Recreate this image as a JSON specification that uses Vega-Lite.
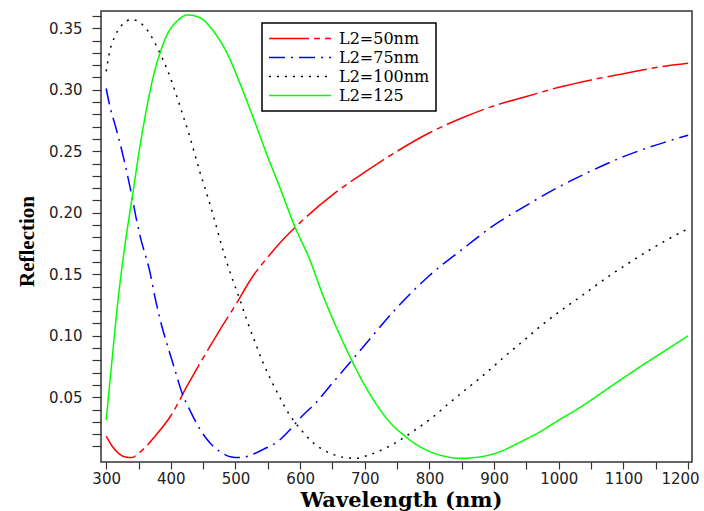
{
  "$schema": "https://vega.github.io/schema/vega-lite/v6.json",
  "width": 591,
  "height": 451,
  "autosize": {"type": "none"},
  "padding": {"left": 101, "top": 11, "right": 12, "bottom": 49},
  "background": "white",
  "config": {
    "view": {"stroke": "#333333", "strokeWidth": 1.5},
    "axis": {"grid": false, "domain": false, "tickColor": "#333333", "tickWidth": 1.2, "labelOverlap": false,
             "labelFont": "DejaVu Sans", "labelFontSize": 15, "labelColor": "#222222"}
  },
  "data": {"values": [
    {"s": "L2=50nm", "w": 300, "r": 0.0185}, {"s": "L2=50nm", "w": 310, "r": 0.0098}, {"s": "L2=50nm", "w": 320, "r": 0.004},
    {"s": "L2=50nm", "w": 330, "r": 0.0015}, {"s": "L2=50nm", "w": 340, "r": 0.001}, {"s": "L2=50nm", "w": 350, "r": 0.0045},
    {"s": "L2=50nm", "w": 360, "r": 0.009}, {"s": "L2=50nm", "w": 375, "r": 0.018}, {"s": "L2=50nm", "w": 400, "r": 0.035},
    {"s": "L2=50nm", "w": 425, "r": 0.059}, {"s": "L2=50nm", "w": 450, "r": 0.082}, {"s": "L2=50nm", "w": 475, "r": 0.104},
    {"s": "L2=50nm", "w": 500, "r": 0.125}, {"s": "L2=50nm", "w": 525, "r": 0.147}, {"s": "L2=50nm", "w": 550, "r": 0.164},
    {"s": "L2=50nm", "w": 575, "r": 0.179}, {"s": "L2=50nm", "w": 600, "r": 0.192}, {"s": "L2=50nm", "w": 650, "r": 0.2145},
    {"s": "L2=50nm", "w": 700, "r": 0.233}, {"s": "L2=50nm", "w": 750, "r": 0.25}, {"s": "L2=50nm", "w": 800, "r": 0.265},
    {"s": "L2=50nm", "w": 850, "r": 0.277}, {"s": "L2=50nm", "w": 900, "r": 0.287}, {"s": "L2=50nm", "w": 950, "r": 0.2945},
    {"s": "L2=50nm", "w": 1000, "r": 0.302}, {"s": "L2=50nm", "w": 1050, "r": 0.308}, {"s": "L2=50nm", "w": 1100, "r": 0.313},
    {"s": "L2=50nm", "w": 1150, "r": 0.318}, {"s": "L2=50nm", "w": 1200, "r": 0.3215},

    {"s": "L2=75nm", "w": 300, "r": 0.301}, {"s": "L2=75nm", "w": 306, "r": 0.286}, {"s": "L2=75nm", "w": 314, "r": 0.271},
    {"s": "L2=75nm", "w": 324, "r": 0.251}, {"s": "L2=75nm", "w": 334, "r": 0.228}, {"s": "L2=75nm", "w": 340, "r": 0.213},
    {"s": "L2=75nm", "w": 347, "r": 0.194}, {"s": "L2=75nm", "w": 353, "r": 0.18}, {"s": "L2=75nm", "w": 368, "r": 0.151},
    {"s": "L2=75nm", "w": 376, "r": 0.13}, {"s": "L2=75nm", "w": 386, "r": 0.108}, {"s": "L2=75nm", "w": 396, "r": 0.09},
    {"s": "L2=75nm", "w": 407, "r": 0.071}, {"s": "L2=75nm", "w": 417, "r": 0.054}, {"s": "L2=75nm", "w": 430, "r": 0.039},
    {"s": "L2=75nm", "w": 445, "r": 0.024}, {"s": "L2=75nm", "w": 461, "r": 0.0126}, {"s": "L2=75nm", "w": 476, "r": 0.0058},
    {"s": "L2=75nm", "w": 492, "r": 0.0017}, {"s": "L2=75nm", "w": 505, "r": 0.001}, {"s": "L2=75nm", "w": 512, "r": 0.0012},
    {"s": "L2=75nm", "w": 528, "r": 0.0039}, {"s": "L2=75nm", "w": 543, "r": 0.0077}, {"s": "L2=75nm", "w": 564, "r": 0.0135},
    {"s": "L2=75nm", "w": 585, "r": 0.024}, {"s": "L2=75nm", "w": 598, "r": 0.032}, {"s": "L2=75nm", "w": 625, "r": 0.046},
    {"s": "L2=75nm", "w": 650, "r": 0.0616}, {"s": "L2=75nm", "w": 675, "r": 0.077}, {"s": "L2=75nm", "w": 700, "r": 0.0925},
    {"s": "L2=75nm", "w": 750, "r": 0.123}, {"s": "L2=75nm", "w": 800, "r": 0.149}, {"s": "L2=75nm", "w": 850, "r": 0.17},
    {"s": "L2=75nm", "w": 900, "r": 0.19}, {"s": "L2=75nm", "w": 950, "r": 0.206}, {"s": "L2=75nm", "w": 1000, "r": 0.221},
    {"s": "L2=75nm", "w": 1050, "r": 0.234}, {"s": "L2=75nm", "w": 1100, "r": 0.2456}, {"s": "L2=75nm", "w": 1150, "r": 0.255},
    {"s": "L2=75nm", "w": 1200, "r": 0.263},

    {"s": "L2=100nm", "w": 300, "r": 0.315}, {"s": "L2=100nm", "w": 305, "r": 0.33}, {"s": "L2=100nm", "w": 314, "r": 0.344},
    {"s": "L2=100nm", "w": 322, "r": 0.351}, {"s": "L2=100nm", "w": 332, "r": 0.356}, {"s": "L2=100nm", "w": 340, "r": 0.357},
    {"s": "L2=100nm", "w": 348, "r": 0.356}, {"s": "L2=100nm", "w": 358, "r": 0.352}, {"s": "L2=100nm", "w": 368, "r": 0.345},
    {"s": "L2=100nm", "w": 381, "r": 0.332}, {"s": "L2=100nm", "w": 394, "r": 0.317}, {"s": "L2=100nm", "w": 407, "r": 0.298},
    {"s": "L2=100nm", "w": 417, "r": 0.282}, {"s": "L2=100nm", "w": 430, "r": 0.2606}, {"s": "L2=100nm", "w": 445, "r": 0.233},
    {"s": "L2=100nm", "w": 455, "r": 0.2165}, {"s": "L2=100nm", "w": 466, "r": 0.197}, {"s": "L2=100nm", "w": 481, "r": 0.169},
    {"s": "L2=100nm", "w": 494, "r": 0.148}, {"s": "L2=100nm", "w": 505, "r": 0.132}, {"s": "L2=100nm", "w": 518, "r": 0.112},
    {"s": "L2=100nm", "w": 533, "r": 0.091}, {"s": "L2=100nm", "w": 543, "r": 0.0776}, {"s": "L2=100nm", "w": 554, "r": 0.065},
    {"s": "L2=100nm", "w": 569, "r": 0.0495}, {"s": "L2=100nm", "w": 582, "r": 0.037}, {"s": "L2=100nm", "w": 590, "r": 0.031},
    {"s": "L2=100nm", "w": 600, "r": 0.0245}, {"s": "L2=100nm", "w": 608, "r": 0.0195}, {"s": "L2=100nm", "w": 621, "r": 0.0126},
    {"s": "L2=100nm", "w": 636, "r": 0.0072}, {"s": "L2=100nm", "w": 649, "r": 0.0039}, {"s": "L2=100nm", "w": 667, "r": 0.0012},
    {"s": "L2=100nm", "w": 685, "r": 0.0004}, {"s": "L2=100nm", "w": 703, "r": 0.0025}, {"s": "L2=100nm", "w": 721, "r": 0.006},
    {"s": "L2=100nm", "w": 749, "r": 0.0135}, {"s": "L2=100nm", "w": 776, "r": 0.0228}, {"s": "L2=100nm", "w": 803, "r": 0.033},
    {"s": "L2=100nm", "w": 827, "r": 0.0437}, {"s": "L2=100nm", "w": 853, "r": 0.055}, {"s": "L2=100nm", "w": 878, "r": 0.0655},
    {"s": "L2=100nm", "w": 903, "r": 0.077}, {"s": "L2=100nm", "w": 926, "r": 0.0875}, {"s": "L2=100nm", "w": 950, "r": 0.098},
    {"s": "L2=100nm", "w": 974, "r": 0.1088}, {"s": "L2=100nm", "w": 1001, "r": 0.1196}, {"s": "L2=100nm", "w": 1028, "r": 0.1297},
    {"s": "L2=100nm", "w": 1055, "r": 0.14}, {"s": "L2=100nm", "w": 1080, "r": 0.1494}, {"s": "L2=100nm", "w": 1108, "r": 0.159},
    {"s": "L2=100nm", "w": 1138, "r": 0.169}, {"s": "L2=100nm", "w": 1164, "r": 0.177}, {"s": "L2=100nm", "w": 1200, "r": 0.187},

    {"s": "L2=125", "w": 300, "r": 0.0316}, {"s": "L2=125", "w": 304, "r": 0.053}, {"s": "L2=125", "w": 309, "r": 0.08},
    {"s": "L2=125", "w": 314, "r": 0.107}, {"s": "L2=125", "w": 319, "r": 0.132}, {"s": "L2=125", "w": 324, "r": 0.154},
    {"s": "L2=125", "w": 330, "r": 0.177}, {"s": "L2=125", "w": 342, "r": 0.2185}, {"s": "L2=125", "w": 353, "r": 0.2565},
    {"s": "L2=125", "w": 363, "r": 0.286}, {"s": "L2=125", "w": 373, "r": 0.311}, {"s": "L2=125", "w": 384, "r": 0.331},
    {"s": "L2=125", "w": 394, "r": 0.3445}, {"s": "L2=125", "w": 409, "r": 0.3555}, {"s": "L2=125", "w": 426, "r": 0.3608},
    {"s": "L2=125", "w": 445, "r": 0.3585}, {"s": "L2=125", "w": 466, "r": 0.3475}, {"s": "L2=125", "w": 487, "r": 0.3297},
    {"s": "L2=125", "w": 507, "r": 0.305}, {"s": "L2=125", "w": 528, "r": 0.2765}, {"s": "L2=125", "w": 548, "r": 0.248},
    {"s": "L2=125", "w": 569, "r": 0.22}, {"s": "L2=125", "w": 590, "r": 0.191}, {"s": "L2=125", "w": 615, "r": 0.1616},
    {"s": "L2=125", "w": 636, "r": 0.1318}, {"s": "L2=125", "w": 657, "r": 0.1057}, {"s": "L2=125", "w": 677, "r": 0.083},
    {"s": "L2=125", "w": 698, "r": 0.0614}, {"s": "L2=125", "w": 719, "r": 0.0434}, {"s": "L2=125", "w": 739, "r": 0.0295},
    {"s": "L2=125", "w": 760, "r": 0.0193}, {"s": "L2=125", "w": 780, "r": 0.0115}, {"s": "L2=125", "w": 801, "r": 0.0058},
    {"s": "L2=125", "w": 822, "r": 0.0023}, {"s": "L2=125", "w": 847, "r": 0.0004}, {"s": "L2=125", "w": 873, "r": 0.0012},
    {"s": "L2=125", "w": 909, "r": 0.0058}, {"s": "L2=125", "w": 940, "r": 0.0135}, {"s": "L2=125", "w": 971, "r": 0.022},
    {"s": "L2=125", "w": 997, "r": 0.0305}, {"s": "L2=125", "w": 1038, "r": 0.0435}, {"s": "L2=125", "w": 1079, "r": 0.0583},
    {"s": "L2=125", "w": 1126, "r": 0.0749}, {"s": "L2=125", "w": 1167, "r": 0.0888}, {"s": "L2=125", "w": 1200, "r": 0.1}
  ]},
  "mark": {"type": "line", "strokeWidth": 1.5, "clip": true, "interpolate": "monotone"},
  "encoding": {
    "x": {"field": "w", "type": "quantitative",
          "scale": {"domain": [292, 1206], "nice": false, "zero": false},
          "axis": {"orient": "bottom",
                   "values": [300, 350, 400, 450, 500, 550, 600, 650, 700, 750, 800, 850, 900, 950, 1000, 1050, 1100, 1150, 1200],
                   "labelExpr": "datum.value % 100 == 0 ? format(datum.value, 'd') : ''",
                   "tickSize": 7, "labelPadding": 2, "labelFlush": 5, "labelFlushOffset": 11,
                   "encode": {
                     "ticks": {"update": {"y2": {"signal": "datum.value % 100 == 0 ? 7 : 4"}}}
                   },
                   "title": "Wavelength (nm)", "titleFont": "DejaVu Serif", "titleFontSize": 21, "titleFontWeight": "bold", "titleColor": "black",
                   "titleX": 300, "titleY": 44, "titleBaseline": "alphabetic"}},
    "y": {"field": "r", "type": "quantitative",
          "scale": {"domain": [-0.0026, 0.364], "nice": false, "zero": false},
          "axis": {"orient": "left",
                   "values": [0.01, 0.02, 0.03, 0.04, 0.05, 0.06, 0.07, 0.08, 0.09, 0.1, 0.11, 0.12, 0.13, 0.14, 0.15, 0.16, 0.17, 0.18, 0.19, 0.2, 0.21, 0.22, 0.23, 0.24, 0.25, 0.26, 0.27, 0.28, 0.29, 0.3, 0.31, 0.32, 0.33, 0.34, 0.35, 0.36],
                   "labelExpr": "round(datum.value * 100) % 5 == 0 ? format(datum.value, '.2f') : ''",
                   "tickSize": 9, "labelPadding": 10,
                   "encode": {"ticks": {"update": {"x2": {"signal": "round(datum.value * 100) % 5 == 0 ? -9 : -6"}}}},
                   "title": "Reflection", "titleFont": "Liberation Serif", "titleFontSize": 21, "titleFontWeight": "bold", "titleColor": "black",
                   "titleX": -68, "titleY": 230, "titleBaseline": "alphabetic", "titleAngle": -90, "titleAlign": "center"}},
    "color": {"field": "s", "type": "nominal",
              "scale": {"domain": ["L2=50nm", "L2=75nm", "L2=100nm", "L2=125"], "range": ["#ff0000", "#0000ff", "#000000", "#00ff00"]},
              "legend": {"orient": "none", "legendX": 161, "legendY": 12, "title": null, "symbolType": "stroke", "symbolSize": 3844,
                         "symbolStrokeWidth": 1.5, "labelFont": "DejaVu Serif", "labelFontSize": 16, "labelColor": "black",
                         "strokeColor": "black", "fillColor": "white", "padding": 6, "rowPadding": 0, "clipHeight": 19, "labelOffset": 7,
                         "encode": {"legend": {"update": {"strokeWidth": {"value": 1.5}}}}}},
    "strokeDash": {"field": "s", "type": "nominal",
                   "scale": {"domain": ["L2=50nm", "L2=75nm", "L2=100nm", "L2=125"], "range": [[40, 5, 6, 5], [16, 6, 2, 6], [2, 6], [1, 0]]},
                   "legend": null}
  }
}
